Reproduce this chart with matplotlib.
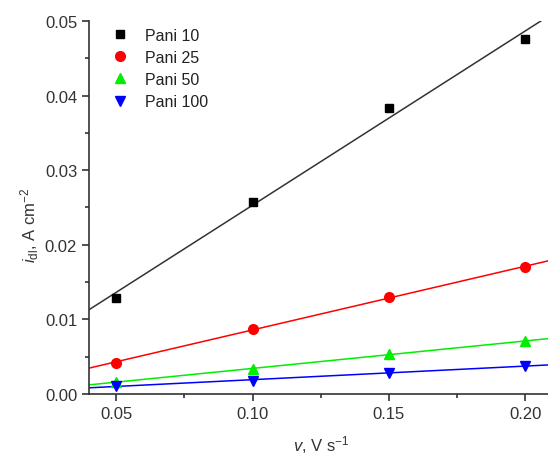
import numpy as np
import matplotlib
matplotlib.use('Agg')
import matplotlib.pyplot as plt
from matplotlib.ticker import MultipleLocator

plt.rcParams['font.family'] = ['Liberation Sans', 'DejaVu Sans']
plt.rcParams['mathtext.fontset'] = 'custom'
plt.rcParams['mathtext.rm'] = 'Liberation Sans'
plt.rcParams['mathtext.it'] = 'Liberation Sans:italic'

# scan rate, V/s
v = [0.05, 0.10, 0.15, 0.20]
labels = ['Pani 10', 'Pani 25', 'Pani 50', 'Pani 100']
pani10 = [0.0129, 0.0257, 0.0384, 0.0476]
pani25 = [0.0042, 0.0087, 0.0130, 0.0170]
pani50 = [0.0016, 0.0034, 0.0053, 0.0071]
pani100 = [0.0011, 0.0018, 0.0028, 0.0038]

series = [pani10, pani25, pani50, pani100]
colors = ['black', 'red', '#00ee00', 'blue']
line_colors = ['#333333', 'red', '#00ee00', 'blue']
markers = ['s', 'o', '^', 'v']
msizes = [6, 7, 7.5, 7.5]

fig = plt.figure(figsize=(5.48, 4.56), dpi=100)
ax = fig.add_axes([0.1624, 0.1338, 0.846, 0.818])

xx = np.array([0.04, 0.21])
for ys, c, lc, m, ms, lab in zip(series, colors, line_colors, markers, msizes, labels):
    ax.plot(v, ys, linestyle='none', marker=m, color=c, markersize=ms, label=lab, zorder=3)
    k, b = np.polyfit(v, ys, 1)
    ax.plot(xx, k * xx + b, color=lc, lw=1.1, zorder=2)

ax.set_xlim(0.04, 0.21)
ax.set_ylim(0, 0.05)
ax.xaxis.set_major_locator(MultipleLocator(0.05))
ax.xaxis.set_minor_locator(MultipleLocator(0.025))
ax.yaxis.set_major_locator(MultipleLocator(0.01))
ax.yaxis.set_minor_locator(MultipleLocator(0.005))
ax.xaxis.set_major_formatter(plt.FormatStrFormatter('%.2f'))
ax.yaxis.set_major_formatter(plt.FormatStrFormatter('%.2f'))
for s in ['top', 'right']:
    ax.spines[s].set_visible(False)
for s in ['left', 'bottom']:
    ax.spines[s].set_color('#333333')
    ax.spines[s].set_linewidth(1.2)
ax.tick_params(which='major', direction='out', length=5, width=1.2, colors='#333333',
               labelsize=12, labelcolor='#333333')
ax.tick_params(which='minor', direction='out', length=3, width=1.2, colors='#333333')

ax.set_xlabel(r'$\mathit{v}$, V s$^{-1}$', fontsize=12, color='#333333', labelpad=9)
ax.set_ylabel(r'$\mathit{i}_{\rm dl}$, A cm$^{-2}$', fontsize=12, color='#333333')
ax.yaxis.set_label_coords(-0.103, 0.455)

ax.legend(loc='upper left', frameon=False, fontsize=11.5, handletextpad=0.6,
          labelspacing=0.45, borderaxespad=0.3, bbox_to_anchor=(0.008, 1.012),
          labelcolor='#222222')

fig.savefig('out.png', dpi=100)
